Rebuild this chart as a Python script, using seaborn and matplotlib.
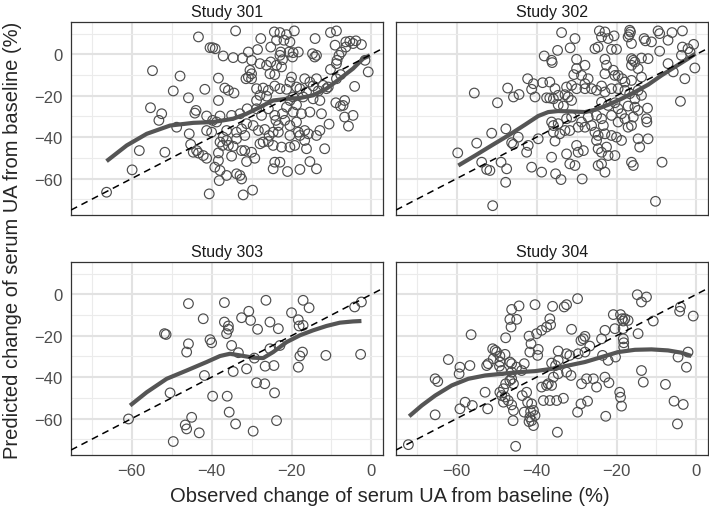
import matplotlib
matplotlib.use("Agg")
import matplotlib.pyplot as plt
import seaborn as sns
import pandas as pd
from matplotlib.ticker import MultipleLocator

# -------------------------
# Data (observed %, predicted %)
# -------------------------
studies = ["Study 301", "Study 302", "Study 303", "Study 304"]

pts_301 = [
    (-34, 11.3), (-43.3, 8.4), (-24.3, 10.8), (-22.9, 10.5), (-21.25, 9.5), (-19.3, 11.3),
    (-21.9, 6.8), (-20.4, 6.0), (-23.75, 6.8), (-27.7, 7.6), (-14.1, 7.6), (-10.25, 10.5),
    (-8.75, 11.3), (-6.4, 6.0), (-5.4, 6.3), (-3.9, 6.5), (-2.5, 4.7), (-4.6, 5.2),
    (-40.4, 3.2), (-39.75, 3.2), (-39.1, 2.7), (-37.1, -0.8), (-34.6, -1.6), (-32.25, -1.8),
    (-30.8, 1.1), (-28.5, 2.3), (-30, -2.9), (-25.2, 3.5), (-22.7, 1.1), (-22.9, -0.5),
    (-20.6, 1.1), (-19.6, 0.8), (-18.3, 1.1), (-19.75, -1.3), (-14.75, 0.3), (-13.75, -0.5),
    (-14.2, -1.3), (-9.1, 4.4), (-7.5, 1.1), (-8.1, -0.5), (-8.6, -2.9), (-8.75, -4.5),
    (-6.4, 3.5), (-1.6, -2.9), (-0.8, -8.5), (-4.2, -15.5), (-27.9, -4.5), (-26.25, -5.3),
    (-25.2, -3.7), (-23.75, -5.3), (-22.25, -2.6), (-22.5, -6.1), (-24.2, -9.8), (-25.4, -9.4),
    (-30.4, -7.7), (-30, -9.4), (-30.8, -11.0), (-31.4, -11.8), (-30, -11.8), (-38.3, -11.5),
    (-54.8, -7.9), (-47.9, -10.5), (-49.6, -17.7), (-45.8, -21.0), (-41.7, -16.9), (-38.3, -22.3),
    (-36.7, -16.3), (-35.8, -17.4), (-34.4, -18.7), (-28.75, -16.6), (-27.1, -16.3), (-27.9, -19.8),
    (-28.75, -22.3), (-26.25, -20.2), (-25.8, -17.4), (-24.2, -15.3), (-22.9, -16.6), (-21.25, -16.9),
    (-20, -11.0), (-20.4, -13.4), (-18.75, -15.8), (-17.9, -16.6), (-16.7, -11.8), (-15.4, -13.4),
    (-13.75, -11.8), (-14.6, -15.3), (-13.3, -17.7), (-12.1, -15.0), (-10.8, -15.8), (-10.25, -7.3),
    (-8.75, -11.8), (-7.7, -9.8), (-11.25, -16.6), (-16.25, -18.2), (-14.6, -21.5), (-17.1, -20.6),
    (-19.6, -20.6), (-18.75, -24.4), (-20.4, -22.3), (-21.25, -25.5), (-19.6, -27.9), (-17.5, -28.7),
    (-15.4, -27.9), (-12.5, -28.7), (-12.9, -22.3), (-8.9, -23.4), (-7.75, -25.0), (-6.7, -22.3),
    (-7.1, -24.7), (-6.7, -30.3), (-4.6, -29.5), (-5.75, -34.7), (-10.6, -33.7), (-55.3, -25.8),
    (-52.5, -28.7), (-53.2, -31.9), (-43.9, -27.1), (-44.2, -28.4), (-41.25, -29.8), (-39.75, -31.9),
    (-37.9, -29.8), (-38.75, -32.7), (-40, -37.6), (-35, -29.5), (-32.9, -28.7), (-31.1, -26.3),
    (-28.75, -26.3), (-27.5, -29.5), (-25.8, -26.3), (-24.2, -29.5), (-23.9, -31.9), (-23.3, -34.4),
    (-22.25, -28.7), (-21.7, -31.9), (-20.4, -34.4), (-18.75, -32.7), (-18.3, -37.6), (-16.7, -36.8),
    (-48.75, -35.2), (-45.6, -38.4), (-41.25, -36.8), (-36.25, -36.8), (-33.75, -37.6), (-32.5, -36.0),
    (-31.25, -33.5), (-29.6, -34.4), (-28.3, -36.8), (-26.7, -36.3), (-25.6, -39.2), (-24.6, -37.6),
    (-23.3, -37.6), (-20.4, -39.2), (-17.9, -39.2), (-15.8, -38.4), (-13.75, -39.2), (-12.9, -36.8),
    (-37.1, -40.0), (-36.25, -41.6), (-37.9, -42.4), (-33.75, -40.8), (-31.7, -39.2), (-27.9, -43.2),
    (-27.1, -42.4), (-25.8, -42.1), (-24.6, -44.0), (-22.5, -44.8), (-20.4, -44.8), (-19.2, -44.0),
    (-16.25, -45.6), (-11.7, -45.6), (-16.7, -41.6), (-45.25, -43.5), (-44.6, -47.3), (-43.3, -47.7),
    (-42.1, -48.9), (-41.25, -50.2), (-43.75, -46.5), (-37.25, -44.0), (-35.8, -44.0), (-34.6, -44.4),
    (-35, -49.2), (-38.3, -47.6), (-38.3, -51.3), (-32.5, -46.5), (-31.7, -46.5), (-30, -47.3),
    (-31.25, -51.8), (-29.2, -50.2), (-58.1, -46.5), (-51.7, -47.3), (-39.2, -54.5), (-37.9, -56.1),
    (-38.1, -61.0), (-36.25, -58.5), (-33.75, -57.7), (-32.9, -58.5), (-32.5, -60.2), (-24.2, -52.1),
    (-22.9, -52.1), (-24.6, -55.3), (-21, -56.6), (-17.9, -55.6), (-15.4, -51.8), (-13.75, -55.3),
    (-59.9, -55.8), (-66.3, -66.6), (-40.6, -67.4), (-32.1, -67.9), (-29.75, -65.6),
]

pts_302 = [
    (-33.75, 10.5), (-30.4, 7.6), (-24.3, 11.3), (-22.9, 10.8), (-20.6, 8.9), (-22.1, 7.6),
    (-23.75, 8.4), (-16.7, 11.6), (-16.5, 10.8), (-16.8, 9.5), (-17.1, 8.4), (-16.25, 5.2),
    (-13.1, 7.6), (-12.75, 6.5), (-11.25, 6.0), (-9.6, 11.3), (-9.2, 10.0), (-6.1, 10.5),
    (-3.5, 11.3), (-7.1, 6.8), (-9.2, 1.5), (-3.5, 3.5), (-2.1, 2.7), (-0.7, 4.8),
    (-1.6, 1.1), (-3.75, -0.5), (-38.1, -0.8), (-36.25, -2.9), (-36.1, -4.0), (-34.75, 1.9),
    (-31.6, 3.1), (-30, -2.4), (-25.4, 2.7), (-24.6, 3.5), (-21.25, 2.4), (-20, 2.4),
    (-22.9, -2.4), (-22.5, -5.3), (-27.9, -5.3), (-30, -6.9), (-30.7, -9.8), (-28.75, -10.2),
    (-27.1, -11.8), (-27.9, -14.2), (-30, -16.6), (-31.25, -15.0), (-32.5, -15.8), (-27.9, -16.6),
    (-16.25, -2.1), (-15.8, -2.9), (-15.4, -3.7), (-13.75, -1.8), (-12.1, -2.1), (-14.6, -6.9),
    (-16.25, -5.3), (-20.8, -7.7), (-20.4, -10.2), (-22.9, -9.4), (-19.6, -10.2), (-18.6, -11.8),
    (-17.9, -13.4), (-16.25, -12.6), (-13.75, -11.0), (-7.1, -4.5), (-5.8, -8.5), (-2.9, -11.8),
    (-0.4, -6.6), (-4.0, -22.7), (-8.6, -52.1), (-10.25, -71.0), (-42.25, -11.8), (-40.8, -14.2),
    (-38.5, -13.7), (-36.7, -13.4), (-35.4, -16.6), (-41.25, -16.9), (-40.4, -20.6), (-47.25, -16.3),
    (-45.8, -20.6), (-44.4, -19.4), (-49.8, -23.4), (-55.6, -18.7), (-37.5, -21.0), (-36.7, -21.1),
    (-35.8, -21.5), (-34.6, -19.8), (-32.9, -19.5), (-32.1, -20.6), (-31.25, -22.3), (-34.6, -24.4),
    (-33.3, -25.0), (-26.25, -16.6), (-25, -17.4), (-23.75, -15.3), (-22.9, -18.2), (-21.25, -16.6),
    (-19.6, -16.6), (-17.9, -17.4), (-16.7, -19.0), (-14.6, -17.4), (-13.75, -19.8), (-15.4, -21.5),
    (-23.75, -23.1), (-22.1, -24.7), (-20.4, -23.4), (-19.6, -26.3), (-17.1, -25.0), (-15.4, -25.5),
    (-14.6, -27.1), (-12.25, -26.0), (-12.5, -31.1), (-12.4, -32.7), (-36.25, -32.7), (-35.8, -34.4),
    (-34.6, -33.5), (-32.5, -31.1), (-31.25, -30.3), (-28.75, -32.7), (-27.1, -30.3), (-25, -29.5),
    (-23.75, -31.1), (-23.3, -34.4), (-21.25, -29.5), (-19.6, -32.7), (-18.75, -28.7), (-17.9, -31.1),
    (-17.1, -35.2), (-16.25, -34.4), (-15.8, -30.3), (-27.9, -35.2), (-26.25, -34.4), (-25.4, -37.6),
    (-24.6, -39.2), (-22.9, -38.4), (-21.25, -39.2), (-20, -40.0), (-18.75, -41.6), (-35.8, -37.6),
    (-34.2, -38.4), (-32.9, -36.8), (-31.7, -36.8), (-29.6, -35.2), (-35.4, -41.9), (-30, -44.0),
    (-29.6, -47.3), (-28.3, -46.5), (-25, -41.6), (-24.6, -45.6), (-23.75, -47.3), (-22.5, -44.8),
    (-20.4, -48.9), (-22.1, -48.9), (-14.6, -40.8), (-12.1, -40.8), (-14.2, -44.8), (-36.25, -49.7),
    (-32.5, -48.1), (-31.7, -52.9), (-30.4, -53.7), (-24.6, -53.7), (-23.75, -52.9), (-22.9, -56.9),
    (-16.25, -52.1), (-15.8, -53.7), (-41.25, -54.5), (-38.75, -56.9), (-35.25, -57.7), (-33.9, -60.5),
    (-28.6, -60.2), (-47.7, -36.0), (-51.25, -38.1), (-55, -42.9), (-59.75, -47.6), (-46.25, -42.7),
    (-44.6, -40.0), (-45.8, -43.5), (-42.1, -44.0), (-42.5, -47.3), (-39.6, -40.8), (-53.75, -52.1),
    (-52.5, -55.6), (-51.7, -56.1), (-48.9, -52.1), (-47.5, -55.3), (-47.75, -61.8), (-51, -73.1),
]

pts_303 = [
    (-45.8, -4.5), (-36.8, -4.0), (-26.4, -2.9), (-17.1, -2.9), (-15.6, -6.5), (-2.5, -3.7),
    (-4.2, -6.1), (-20, -8.9), (-18.3, -12.3), (-18.1, -15.3), (-17.1, -15.0), (-30.7, -8.2),
    (-32.5, -11.3), (-30.25, -12.6), (-25.4, -13.4), (-23.3, -16.6), (-28.5, -16.9), (-42.1, -11.8),
    (-36.8, -13.4), (-35.8, -15.3), (-35.8, -16.9), (-36.25, -19.0), (-51.8, -19.0), (-51.4, -19.4),
    (-40.4, -21.9), (-40, -23.4), (-45.8, -23.9), (-46.25, -27.9), (-35, -24.7), (-33.3, -28.2),
    (-25.4, -26.3), (-22.9, -24.7), (-29.3, -30.8), (-17.25, -27.9), (-17.9, -29.8), (-18.3, -35.2),
    (-11.4, -29.5), (-2.7, -29.0), (-26.6, -34.7), (-24.4, -34.4), (-34.6, -37.3), (-31.25, -36.0),
    (-41.8, -39.2), (-28.75, -42.7), (-26.7, -43.2), (-24.25, -47.6), (-50.4, -47.6), (-39.75, -49.2),
    (-36.1, -49.2), (-35.6, -56.9), (-34, -62.6), (-23.75, -61.0), (-45, -59.4), (-46.6, -63.1),
    (-46.25, -65.0), (-43.1, -66.9), (-29.6, -66.1), (-49.6, -71.1), (-60.8, -60.2),
]

pts_304 = [
    (-14.8, -0.2), (-13.75, -3.7), (-12.5, -1.3), (-29.75, -2.1), (-32.5, -5.0), (-33.1, -6.1),
    (-36, -5.8), (-40.4, -5.0), (-46.25, -7.3), (-44.4, -5.6), (-46.7, -12.1), (-45, -12.1),
    (-46.4, -15.8), (-36.7, -11.8), (-36.5, -14.7), (-4.0, -6.1), (-4.2, -8.2), (-0.8, -10.5),
    (-20.8, -9.8), (-19, -9.8), (-18.6, -11.8), (-18.3, -12.9), (-17.1, -12.6), (-17.9, -11.8),
    (-10.8, -12.9), (-31.25, -16.9), (-27.9, -20.3), (-28.3, -21.5), (-28.9, -22.3), (-26.7, -25.0),
    (-38.75, -17.4), (-40, -19.0), (-41.9, -20.2), (-41.4, -23.9), (-41.7, -27.9), (-39.6, -26.6),
    (-39.75, -29.5), (-47.75, -21.0), (-51, -26.3), (-50.4, -27.1), (-50, -27.9), (-47.9, -29.0),
    (-49.2, -29.8), (-56.4, -19.5), (-62.1, -31.5), (-59.2, -35.2), (-59.4, -38.4), (-56.7, -34.4),
    (-52.1, -33.5), (-52.5, -34.4), (-49.3, -34.7), (-48.75, -36.8), (-46.25, -33.5), (-45, -35.2),
    (-43.75, -36.8), (-43.1, -33.5), (-34.6, -27.4), (-31.7, -29.5), (-29.6, -28.7), (-23.5, -29.5),
    (-20.25, -30.3), (-22.9, -17.4), (-20.4, -16.6), (-18.3, -21.5), (-18.2, -23.4), (-14.6, -19.0),
    (-18.2, -25.5), (-23.75, -21.5), (-4.6, -30.3), (-2.1, -27.9), (-2.5, -35.2), (-13.75, -36.8),
    (-13.3, -42.4), (-7.75, -43.5), (-36.25, -33.2), (-35.25, -34.4), (-35.8, -40.0), (-34.6, -38.4),
    (-32.5, -37.6), (-31.4, -39.2), (-37.5, -44.0), (-37.1, -43.2), (-38.75, -44.8), (-36.25, -44.0),
    (-28.75, -43.2), (-27.5, -40.8), (-25.8, -40.8), (-25, -44.8), (-22.9, -40.0), (-21.9, -42.7),
    (-65.4, -40.8), (-64.75, -42.1), (-52.9, -47.3), (-49.2, -47.3), (-48.75, -48.9), (-48.3, -52.1),
    (-46.25, -37.6), (-46.7, -41.6), (-45.8, -43.2), (-47.75, -43.2), (-42.5, -47.3), (-42.25, -52.1),
    (-43.6, -48.9), (-38.3, -51.3), (-36.7, -51.3), (-35, -51.3), (-33.3, -50.2), (-28.9, -52.9),
    (-27.25, -51.6), (-19.2, -47.3), (-19, -49.7), (-18.75, -54.0), (-5.6, -51.6), (-3.3, -53.2),
    (-59.2, -55.3), (-57.9, -52.1), (-56.1, -53.7), (-52.25, -55.3), (-46.25, -53.4), (-45.8, -56.1),
    (-45.9, -61.0), (-43.1, -56.9), (-41.5, -56.6), (-41.25, -61.0), (-40.8, -63.4), (-41.9, -61.5),
    (-29.75, -56.9), (-22.7, -58.9), (-65.4, -58.2), (-4.75, -62.6), (-34.8, -66.6), (-45.25, -73.4),
    (-72.1, -72.6), (-48.3, -45.6), (-46.25, -40.8), (-47.9, -49.6), (-47.1, -51.3), (-41.25, -52.9),
    (-40.8, -56.1), (-41.7, -59.3), (-40.4, -58.5), (-37.5, -15.8), (-50.85, -31.1), (-49.2, -32.7),
    (-46.7, -32.7), (-34.6, -31.9), (-32.5, -28.7), (-18.35, -16.6), (-27.9, -27.9), (-22.1, -31.9),
]

# smoothed trend (loess)
smooth_x_301 = [-66.3, -61.25, -56.25, -50.4, -44.6, -39.6, -34.6, -31.25, -27.9, -24.6, -21.25, -17.9, -14.6, -11.25, -7.9, -4.6, -2.1, -0.4]
smooth_y_301 = [-51.6, -44.0, -38.4, -34.4, -33.1, -32.7, -31.1, -28.7, -25.5, -22.3, -21.5, -21.1, -19.8, -16.6, -11.8, -6.9, -2.1, -0.5]
smooth_x_302 = [-59.6, -55.4, -51.25, -47.1, -42.9, -39.6, -37.1, -34.6, -31.25, -27.9, -25.4, -22.1, -18.75, -15.4, -12.1, -8.75, -5.4, -2.1, -0.25]
smooth_y_302 = [-53.7, -48.9, -44.0, -39.2, -34.0, -29.8, -27.9, -27.4, -27.6, -27.9, -26.8, -24.4, -21.5, -18.2, -14.7, -10.2, -6.1, -2.1, 0.3]
smooth_x_303 = [-60.4, -56.25, -51.25, -46.25, -41.25, -37.9, -35.4, -32.9, -29.6, -27.1, -24.6, -21.25, -17.9, -14.6, -11.25, -7.9, -4.6, -2.5]
smooth_y_303 = [-53.7, -47.3, -40.8, -36.8, -32.7, -29.8, -28.7, -29.5, -30.6, -30.8, -27.9, -23.1, -19.8, -17.4, -15.3, -13.7, -13.1, -12.9]
smooth_x_304 = [-71.9, -68.75, -65.4, -61.25, -57.1, -52.9, -48.75, -44.6, -40.4, -36.25, -32.1, -27.9, -23.75, -19.6, -15.4, -11.25, -7.1, -3.75, -1.25]
smooth_y_304 = [-58.9, -53.7, -48.9, -44.0, -40.8, -39.2, -38.4, -37.6, -37.1, -36.0, -34.4, -32.7, -30.3, -27.9, -26.8, -26.6, -27.1, -28.2, -29.8]

x_ticks = [-60, -40, -20, 0]
y_ticks = [0, -20, -40, -60]

points = {"Study 301": pts_301, "Study 302": pts_302, "Study 303": pts_303, "Study 304": pts_304}
smooths = {
    "Study 301": (smooth_x_301, smooth_y_301),
    "Study 302": (smooth_x_302, smooth_y_302),
    "Study 303": (smooth_x_303, smooth_y_303),
    "Study 304": (smooth_x_304, smooth_y_304),
}

df = pd.concat(
    [pd.DataFrame(points[s], columns=["obs", "pred"]).assign(study=s) for s in studies],
    ignore_index=True,
)

# -------------------------
# Figure
# -------------------------
sns.set_style("white")
plt.rcParams["font.family"] = ["Liberation Sans", "DejaVu Sans"]

W, H = 709, 510
fig = plt.figure(figsize=(W / 100, H / 100), dpi=100)

# panel boxes in pixels: left, top, right, bottom
boxes = {
    "Study 301": (71, 23, 383, 216),
    "Study 302": (396, 23, 708, 216),
    "Study 303": (71, 263, 383, 456),
    "Study 304": (396, 263, 708, 456),
}

for i, s in enumerate(studies):
    l, t, r, b = boxes[s]
    ax = fig.add_axes([l / W, 1 - b / H, (r - l) / W, (b - t) / H])
    sub = df[df["study"] == s]

    sns.scatterplot(data=sub, x="obs", y="pred", ax=ax, marker="o", s=48,
                    facecolor="none", edgecolor="#4d4d4d", linewidth=0.85,
                    legend=False, zorder=2)
    sx, sy = smooths[s]
    sns.lineplot(x=sx, y=sy, ax=ax, color="#555555", linewidth=3.0,
                 sort=False, estimator=None, zorder=3,
                 solid_capstyle="butt")
    ax.axline((0, 0), slope=1, color="black", linewidth=1.1,
              linestyle=(0, (4.5, 3.2)), zorder=4)

    ax.set_xlim(-75.2, 2.9)
    ax.set_ylim(-77.6, 15.6)
    ax.set_xticks(x_ticks)
    ax.set_yticks(y_ticks)
    ax.xaxis.set_minor_locator(MultipleLocator(10))
    ax.yaxis.set_minor_locator(MultipleLocator(10))
    ax.grid(which="major", color="#e2e2e2", linewidth=1.5)
    ax.grid(which="minor", color="#ebebeb", linewidth=0.8)
    ax.set_axisbelow(True)
    for sp in ax.spines.values():
        sp.set_color("#333333")
        sp.set_linewidth(0.9)

    ax.set_xlabel("")
    ax.set_ylabel("")
    ax.tick_params(which="minor", length=0)
    ax.tick_params(which="major", length=3.5, width=0.8, color="#333333",
                   labelsize=12, labelcolor="#4d4d4d", pad=2.5)
    if i < 2:
        ax.tick_params(axis="x", length=0, labelbottom=False)
    if i % 2 == 1:
        ax.tick_params(axis="y", length=0, labelleft=False)

    ax.set_title(s, fontsize=11.5, color="#1a1a1a", pad=4)

fig.text(389.5 / W, 1 - 497 / H, "Observed change of serum UA from baseline (%)",
         ha="center", va="center", fontsize=14.5)
fig.text(13 / W, 1 - 240 / H, "Predicted change of serum UA from baseline (%)",
         ha="center", va="center", rotation=90, fontsize=14.5)

fig.savefig("out.png", dpi=100)
